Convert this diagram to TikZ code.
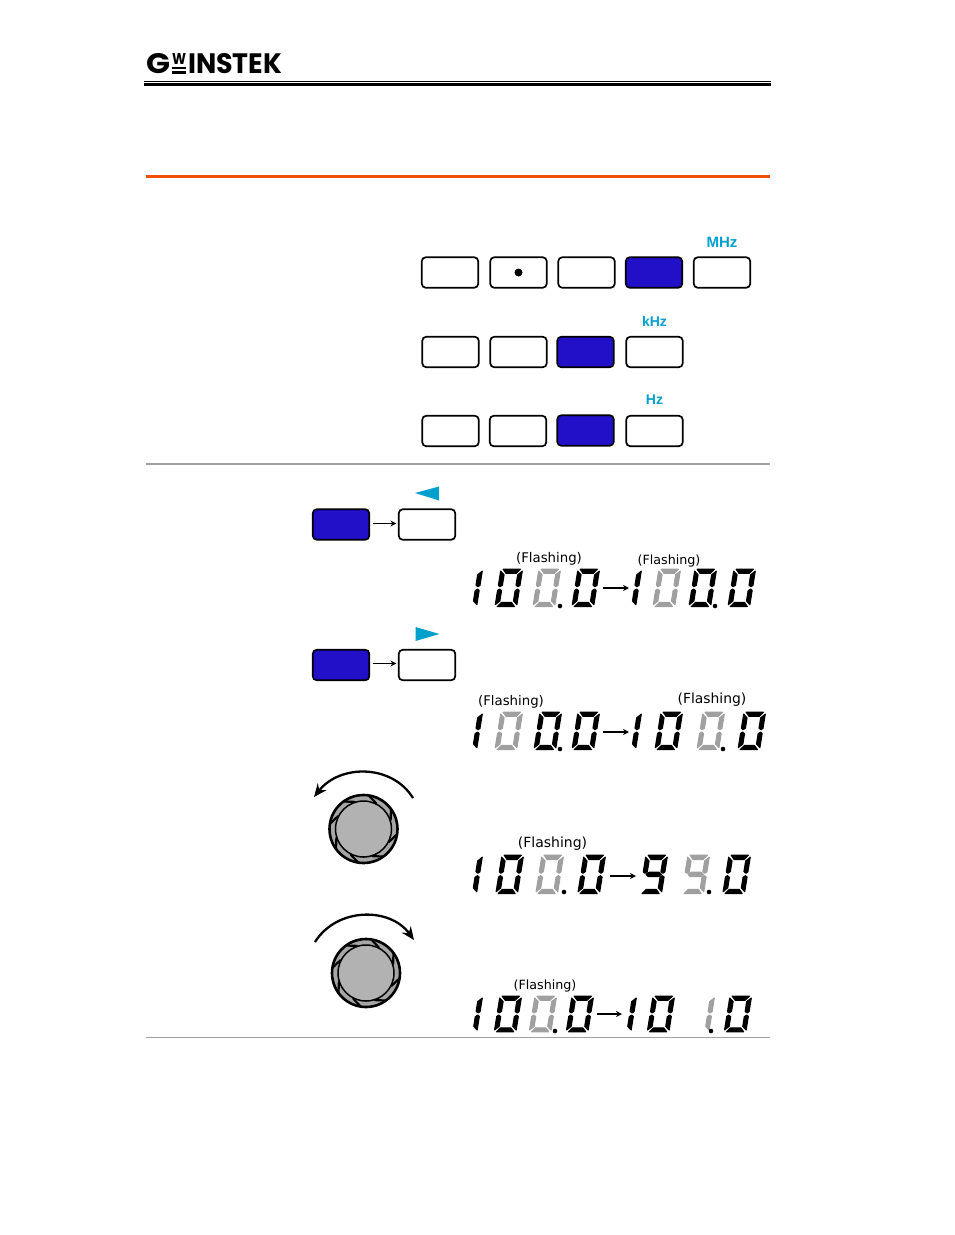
\documentclass[tikz,border=0pt]{standalone}
\usepackage{fontspec}
\setmainfont{DejaVu Sans}
\newfontfamily\arialf{Liberation Sans}
\newfontfamily\logof{Poppins}
\usetikzlibrary{arrows.meta,calc}
\definecolor{keyblue}{HTML}{2110C8}
\definecolor{unitcyan}{HTML}{00A0CC}
\definecolor{seggray}{HTML}{A0A0A0}
\definecolor{rulegray}{HTML}{A0A0A0}
\definecolor{ruleorange}{HTML}{F25008}
\tikzset{
 key/.style={draw=black,line width=1.7pt,rounded corners=4pt,minimum width=56.5pt,minimum height=30.5pt,inner sep=0pt,fill=white},
 bluekey/.style={key,fill=keyblue},
 unitlabel/.style={font=\arialf\bfseries\fontsize{#1}{14}\selectfont,text=unitcyan,inner sep=0pt,draw=none},
 flash/.style={font=\fontsize{#1}{14}\selectfont,inner sep=0pt},
 smallarrow/.style={-{Stealth[length=6pt,width=6pt]},line width=1.3pt,shorten <=2.5pt,shorten >=1.5pt},
 dial/.style={circle,draw=black,line width=2.6pt,fill=gray!70,minimum size=#1,inner sep=0pt},
 dialcore/.style={circle,draw=black,line width=1.5pt,fill=gray!60,minimum size=56pt,inner sep=0pt},
 turn/.style={-{Stealth[length=13pt,width=11pt]},line width=2.3pt},
 divider/.style={rulegray,line width=1.1pt},
 seg/.style={fill=#1,draw=#1,line join=round,line width=1.1pt},
}
\newcommand{\dys}{1.05}
\newcommand{\segA}{(2.4,0.2)--(19.6,0.2)--(16,4.2)--(6,4.2)--cycle}
\newcommand{\segB}{(21.8,2)--(17.8,5.6)--(17.8,15.4)--(20,16.9)--(21.8,15.6)--cycle}
\newcommand{\segC}{(21.8,34)--(17.8,30.4)--(17.8,20.6)--(20,19.1)--(21.8,20.4)--cycle}
\newcommand{\segD}{(2.4,35.8)--(19.6,35.8)--(16,31.8)--(6,31.8)--cycle}
\newcommand{\segE}{(0.2,34)--(4.2,30.4)--(4.2,20.6)--(2,19.1)--(0.2,20.4)--cycle}
\newcommand{\segF}{(0.2,2)--(4.2,5.6)--(4.2,15.4)--(2,16.9)--(0.2,15.6)--cycle}
\newcommand{\segG}{(3.4,18)--(6,16)--(16,16)--(18.6,18)--(16,20)--(6,20)--cycle}
\newcommand{\dzero}[3]{\begin{scope}[shift={(#1+5.8,#2)},xslant=0.16,yscale=\dys]\path[seg=#3] \segA \segB \segC \segD \segE \segF;\end{scope}}
\newcommand{\done}[3]{\begin{scope}[shift={(#1+5.8,#2)},xslant=0.16,yscale=\dys]\path[seg=#3] \segB \segC;\end{scope}}
\newcommand{\dnine}[3]{\begin{scope}[shift={(#1+5.8,#2)},xslant=0.16,yscale=\dys]\path[seg=#3] \segA \segB \segC \segD \segF \segG;\end{scope}}
\newcommand{\dpoint}[3]{\fill[#3] (#1,#2) circle (2.3);}
\newcommand{\grip}[2]{%
 \foreach \a in {18,63,108,153,198,243,288,333}{
  \draw[black,line width=2.2pt,line cap=round] ($(#1,#2)+(\a-9:34)$) -- ($(#1,#2)+(\a+9:28.5)$);
 }}
\begin{document}
\begin{tikzpicture}[x=1pt,y=-1pt]
\useasboundingbox[fill=white] (0,0) rectangle (954,1235);
% header
\node[inner sep=0pt,anchor=west] (logoG) at (146,63.5) {\logof\bfseries\resizebox{24pt}{20pt}{G}};
\node[inner sep=0pt,anchor=north west] (logoW) at (172,53.5) {\logof\bfseries\resizebox{14pt}{11pt}{W}};
\fill (172,66.5) rectangle (186,68.5);
\fill (172,70.5) rectangle (186,73.5);
\node[inner sep=0pt,anchor=west] (logoI) at (188,63.5) {\logof\bfseries\resizebox{94pt}{20pt}{INSTEK}};
\fill (144,80.5) rectangle (771,81.5);
\fill (144,82.5) rectangle (771,86);
\fill[ruleorange] (146,174.5) rectangle (770,177.5);
\draw[divider] (146,464) -- (770,464);
\draw[divider] (146,1037.5) -- (770,1037.5);
% keypad
\node[key] (k11) at (450,272.5) {};
\node[key] (k12) at (518.5,272.5) {};
\fill[black] (k12.center) circle (4);
\node[key] (k13) at (586.5,272.5) {};
\node[bluekey] (k14) at (654,272.5) {};
\node[key] (k15) at (722,272.5) {};
\node[unitlabel=15] (mhz) at (722,242) {MHz};
\node[key] (k21) at (450.5,352) {};
\node[key] (k22) at (518.5,352) {};
\node[bluekey] (k23) at (585.5,352) {};
\node[key] (k24) at (654.5,352) {};
\node[unitlabel=14] (khz) at (654.5,321) {kHz};
\node[key] (k31) at (450.5,431) {};
\node[key] (k32) at (518,431) {};
\node[bluekey] (k33) at (585.5,430.5) {};
\node[key] (k34) at (654.5,431) {};
\node[unitlabel=14] (hz) at (654.5,400) {Hz};
% shift-left / shift-right
\node[bluekey] (a1) at (341,524.5) {};
\node[key] (a2) at (427,524.5) {};
\draw[smallarrow] ([yshift=1pt]a1.east) -- ([yshift=1pt]a2.west);
\fill[unitcyan] (415,493) -- (439,486.5) -- (439,500.5) -- cycle;
\node[bluekey] (b1) at (341,665) {};
\node[key] (b2) at (427,665) {};
\draw[smallarrow] ([yshift=1.5pt]b1.east) -- ([yshift=1.5pt]b2.west);
\fill[unitcyan] (439.5,634) -- (415.5,627) -- (415.5,641) -- cycle;
% knobs
\node[dial=68pt] (d1) at (363.5,829) {};
\grip{363.5}{829}
\node[dialcore] (d1i) at (d1.center) {};
\coordinate (d1s) at (413,798);
\coordinate (d1e) at (314,797);
\draw[turn] (d1s) .. controls (392,764) and (340,764) .. (d1e);
\node[dial=68pt] (d2) at (366,973) {};
\grip{366}{973}
\node[dialcore] (d2i) at (d2.center) {};
\coordinate (d2s) at (315,942);
\coordinate (d2e) at (414,940);
\draw[turn] (d2s) .. controls (337,907) and (390,907) .. (d2e);
% display 1
\node[flash=13.3] (f1) at (549,559) {(Flashing)};
\done{455}{569}{black}\dzero{495}{569}{black}\dzero{533}{569}{seggray}\dpoint{560}{606}{black}\dzero{572}{569}{black}
\coordinate (x1) at (600.5,588);\coordinate (y1) at (630.5,588);\draw[smallarrow] (x1) -- (y1);
\node[flash=12.7] (f2) at (669,561) {(Flashing)};
\done{614}{569}{black}\dzero{653}{569}{seggray}\dzero{689}{569}{black}\dpoint{715}{606}{black}\dzero{728}{569}{black}
% display 2
\node[flash=13.3] (f3) at (511,702) {(Flashing)};
\done{455}{712}{black}\dzero{495}{712}{seggray}\dzero{534}{712}{black}\dpoint{560}{749}{black}\dzero{572}{712}{black}
\coordinate (x2) at (600.5,732);\coordinate (y2) at (630.5,732);\draw[smallarrow] (x2) -- (y2);
\node[flash=13.9] (f4) at (712,700) {(Flashing)};
\done{614}{712}{black}\dzero{655}{712}{black}\dzero{697}{712}{seggray}\dpoint{723}{749}{black}\dzero{738}{712}{black}
% display 3
\renewcommand{\dys}{1.08}
\node[flash=14] (f5) at (552.5,844) {(Flashing)};
\done{455}{855}{black}\dzero{496}{855}{black}\dzero{536}{855}{seggray}\dpoint{564}{892}{black}\dzero{578}{855}{black}
\coordinate (x3) at (607.5,876);\coordinate (y3) at (637.5,876);\draw[smallarrow] (x3) -- (y3);
\dnine{640}{855}{black}\dnine{682}{855}{seggray}\dpoint{709}{892}{black}\dzero{723}{855}{black}
% display 4
\renewcommand{\dys}{1.0}
\node[flash=12.7] (f6) at (545,986) {(Flashing)};
\done{455}{996}{black}\dzero{494}{996}{black}\dzero{529}{996}{seggray}\dpoint{555}{1031}{black}\dzero{566}{996}{black}
\coordinate (x4) at (594.5,1014);\coordinate (y4) at (623.5,1014);\draw[smallarrow] (x4) -- (y4);
\done{609}{996}{black}\dzero{647}{996}{black}\done{687}{996}{seggray}\dpoint{711}{1031}{black}\dzero{724}{996}{black}
\end{tikzpicture}
\end{document}
